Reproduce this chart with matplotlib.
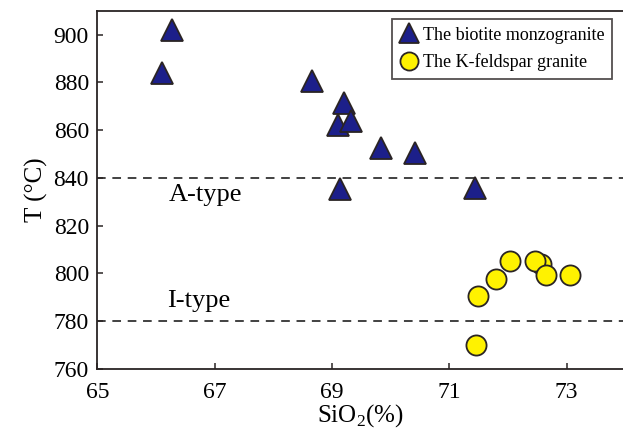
import matplotlib.pyplot as plt

plt.rcParams['font.family'] = 'Liberation Serif'
plt.rcParams['mathtext.fontset'] = 'custom'
plt.rcParams['mathtext.rm'] = 'Liberation Serif'

# biotite monzogranite (triangles)
bio_sio2 = [66.27, 66.10, 68.66, 69.21, 69.11, 69.32, 69.83, 70.41, 69.13, 71.43]
bio_t = [902.1, 884.1, 880.5, 871.3, 862.1, 863.7, 852.5, 850.5, 835.4, 835.8]

# K-feldspar granite (circles)
kf_sio2 = [72.03, 72.57, 72.46, 72.64, 73.05, 71.79, 71.49, 71.45]
kf_t = [805.4, 803.8, 805.1, 799.2, 799.2, 797.5, 790.5, 770.0]

boundaries = [840, 780]
xticks = [65, 67, 69, 71, 73]
yticks = [760, 780, 800, 820, 840, 860, 880, 900]

fig = plt.figure(figsize=(6.23, 4.38), dpi=100)
ax = fig.add_axes([0.1562, 0.1575, 0.8438, 0.8181])

edge = '#2a2424'
for y in boundaries:
    ax.axhline(y, color='#333333', lw=1.3, dashes=(4.8, 3.7), zorder=1)

ax.plot(bio_sio2, bio_t, ls='none', marker='^', ms=16, mfc='#1c1f8a', mec=edge,
        mew=1.3, label='The biotite monzogranite', zorder=3)
ax.plot(kf_sio2, kf_t, ls='none', marker='o', ms=14.5, mfc='#fff200', mec=edge,
        mew=1.3, label='The K-feldspar granite', zorder=3)

ax.text(66.85, 832.8, 'A-type', fontsize=19, ha='center', va='center')
ax.text(66.72, 788.4, 'I-type', fontsize=19, ha='center', va='center')

ax.set_xlim(65, 73.96)
ax.set_ylim(760, 910)
ax.set_xticks(xticks)
ax.set_yticks(yticks)
ax.tick_params(direction='in', length=4, width=1.1, colors=edge, labelcolor='black',
               labelsize=17)
ax.tick_params(axis='x', pad=9)
ax.tick_params(axis='y', pad=6)
for s in ['left', 'bottom', 'top']:
    ax.spines[s].set_color(edge)
    ax.spines[s].set_linewidth(1.3)
ax.spines['right'].set_visible(False)

ax.set_xlabel(r'SiO$_2$(%)', fontsize=18, labelpad=0)
ax.set_ylabel('T (°C)', fontsize=18, labelpad=4)

leg = ax.legend(loc='upper right', bbox_to_anchor=(0.979, 0.976), fontsize=13,
                frameon=True, fancybox=False, edgecolor=edge, handletextpad=0.3,
                handlelength=1.0, borderpad=0.4, labelspacing=0.55, borderaxespad=0,
                markerscale=0.9)
leg.get_frame().set_linewidth(1.3)

fig.savefig('out.png', dpi=100)
